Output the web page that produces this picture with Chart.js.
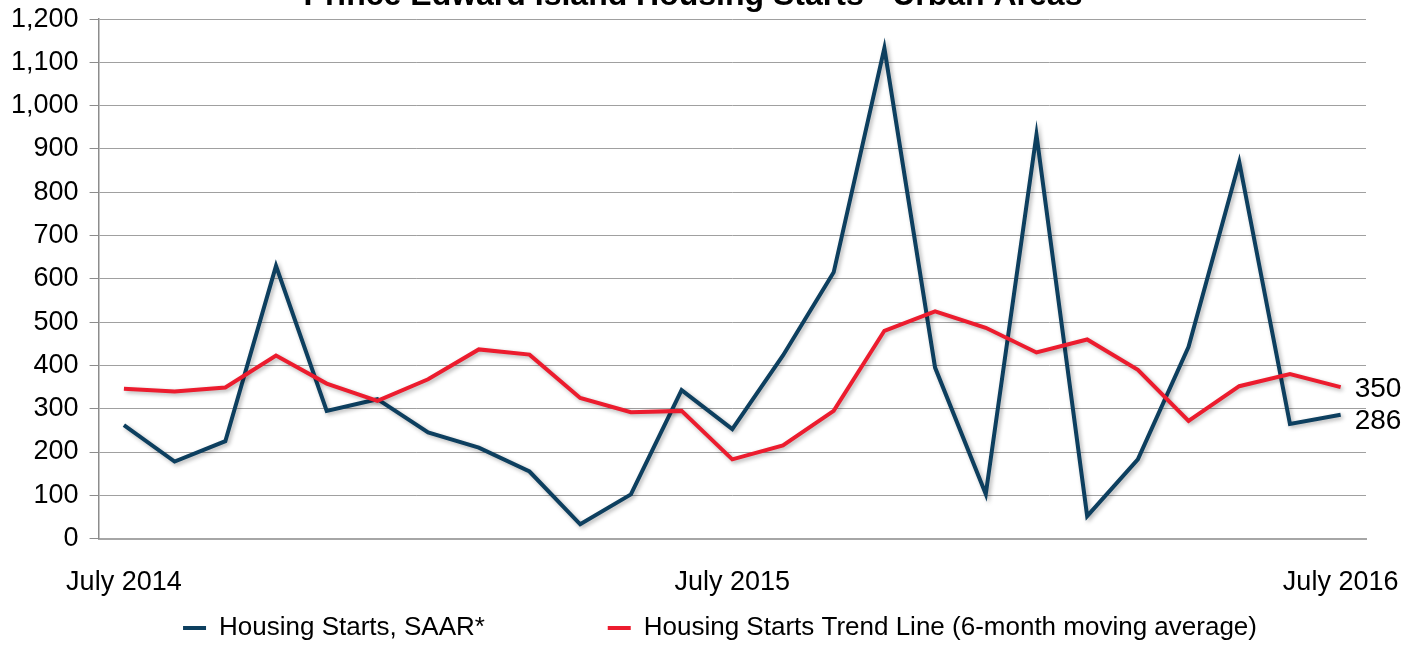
<!DOCTYPE html>
<html>
<head>
<meta charset="utf-8">
<script src="https://cdn.jsdelivr.net/npm/chart.js@4/dist/chart.umd.min.js"></script>
<style>
  html, body { margin: 0; padding: 0; background: #fff; }
  #wrap { width: 1420px; height: 655px; position: relative; }
</style>
</head>
<body>
<div id="wrap"><canvas id="chart"></canvas></div>
<script>
const months = [
    'July 2014', 'August 2014', 'September 2014', 'October 2014', 'November 2014', 'December 2014',
    'January 2015', 'February 2015', 'March 2015', 'April 2015', 'May 2015', 'June 2015',
    'July 2015', 'August 2015', 'September 2015', 'October 2015', 'November 2015', 'December 2015',
    'January 2016', 'February 2016', 'March 2016', 'April 2016', 'May 2016', 'June 2016',
    'July 2016'
];
const shownLabels = ['July 2014', 'July 2015', 'July 2016'];

const startsSaar = [262, 178, 225, 630, 295, 322, 245, 210, 155, 33, 102, 343,
    253, 423, 615, 1133, 395, 103, 933, 52, 183, 443, 870, 265, 286];
const trendLine = [346, 340, 349, 423, 358, 318, 368, 437, 425, 325, 292, 295,
    183, 215, 295, 480, 525, 487, 430, 460, 390, 272, 352, 380, 350];

const yTicks = { min: 0, max: 1200, step: 100 };

const FONT = "'Liberation Sans', Arial, sans-serif";
const BLUE = '#0d3f5f';
const RED = '#ec1c2e';

// labels next to the last point of each line
const endLabels = {
    id: 'endLabels',
    afterDatasetsDraw(chart) {
        const ctx = chart.ctx;
        ctx.save();
        ctx.font = '28px ' + FONT;
        ctx.fillStyle = '#000';
        ctx.textBaseline = 'middle';
        ctx.textAlign = 'left';
        chart.data.datasets.forEach((ds, i) => {
            const meta = chart.getDatasetMeta(i);
            const last = meta.data[meta.data.length - 1];
            const val = ds.data[ds.data.length - 1];
            const dy = i === 0 ? 6 : 2;
            ctx.fillText(String(val), last.x + 14, last.y + dy);
        });
        ctx.restore();
    }
};

// soft shadow under the lines
const lineShadow = {
    id: 'lineShadow',
    beforeDatasetsDraw(chart) {
        const ctx = chart.ctx;
        ctx.save();
        ctx.shadowColor = 'rgba(0,0,0,0.3)';
        ctx.shadowBlur = 4;
        ctx.shadowOffsetX = 2;
        ctx.shadowOffsetY = 2;
    },
    afterDatasetsDraw(chart) {
        chart.ctx.restore();
    }
};

// nudge title and legend, like the original
const nudge = {
    id: 'nudge',
    afterLayout(chart) {
        if (chart.titleBlock) {
            chart.titleBlock.left += 10;
            chart.titleBlock.right += 10;
            chart.titleBlock.top -= 5;
            chart.titleBlock.bottom -= 5;
        }
        if (chart.legend) {
            chart.legend.left += 37;
            chart.legend.right += 37;
            chart.legend.top -= 4;
            chart.legend.bottom -= 4;
        }
    }
};

const pad = ' '.repeat(17);

new Chart(document.getElementById('chart'), {
    type: 'line',
    data: {
        labels: months,
        datasets: [
            {
                label: 'Housing Starts, SAAR*',
                data: startsSaar,
                borderColor: BLUE,
                backgroundColor: BLUE,
                borderWidth: 4,
                pointRadius: 0,
                tension: 0,
                order: 2
            },
            {
                label: 'Housing Starts Trend Line (6-month moving average)',
                data: trendLine,
                borderColor: RED,
                backgroundColor: RED,
                borderWidth: 4,
                pointRadius: 0,
                tension: 0,
                order: 1
            }
        ]
    },
    options: {
        responsive: true,
        maintainAspectRatio: false,
        animation: false,
        layout: {
            padding: { left: 0, right: 54, top: 3, bottom: 0 }
        },
        plugins: {
            title: {
                display: true,
                text: 'Prince Edward Island Housing Starts - Urban Areas',
                color: '#000',
                font: { family: FONT, size: 32, weight: 'bold' },
                padding: { top: -29, bottom: -1 }
            },
            legend: {
                position: 'bottom',
                labels: {
                    color: '#000',
                    font: { family: FONT, size: 26 },
                    usePointStyle: true,
                    pointStyle: 'line',
                    pointStyleWidth: 23,
                    padding: 0,
                    sort: (a, b) => a.datasetIndex - b.datasetIndex,
                    generateLabels(chart) {
                        const items = Chart.defaults.plugins.legend.labels.generateLabels(chart);
                        items.forEach(it => {
                            if (it.datasetIndex === 0) it.text = it.text + pad;
                        });
                        return items;
                    }
                }
            },
            tooltip: { enabled: false }
        },
        scales: {
            x: {
                offset: true,
                grid: { display: false },
                border: { display: true, color: '#a6a6a6', width: 2 },
                ticks: {
                    autoSkip: false,
                    maxRotation: 0,
                    color: '#000',
                    padding: 20,
                    font: { family: FONT, size: 27 },
                    callback(value, index) {
                        const l = months[index];
                        return shownLabels.includes(l) ? l : '';
                    }
                }
            },
            y: {
                min: yTicks.min,
                max: yTicks.max,
                grid: {
                    color: '#a0a0a0',
                    borderDash: [1, 2],
                    tickBorderDash: [],
                    tickColor: '#8c8c8c',
                    tickLength: 9
                },
                border: { display: true, color: '#8c8c8c', width: 1.5 },
                ticks: {
                    stepSize: yTicks.step,
                    color: '#000',
                    padding: 11,
                    font: { family: FONT, size: 27, lineHeight: 0.6 },
                    callback(v) { return v.toLocaleString('en-US'); }
                }
            }
        }
    },
    plugins: [lineShadow, endLabels, nudge]
});
</script>
</body>
</html>
